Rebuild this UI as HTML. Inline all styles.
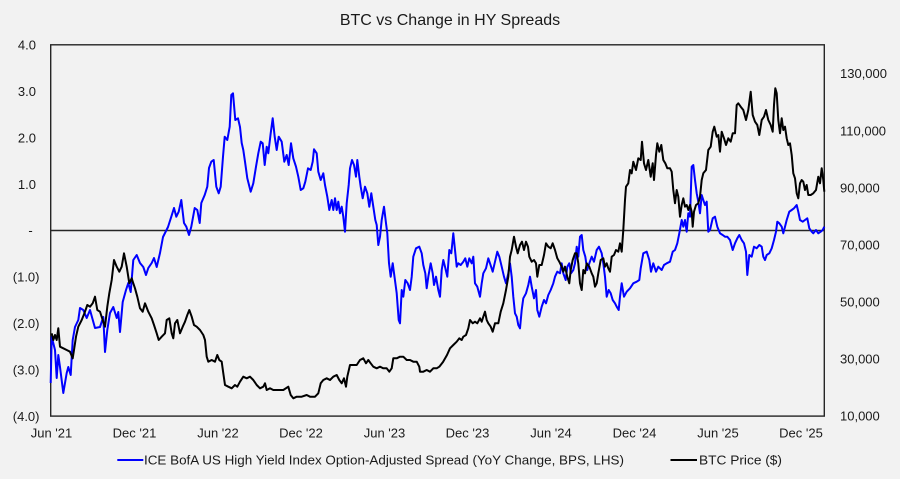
<!DOCTYPE html>
<html>
<head>
<meta charset="utf-8">
<style>
html,body{margin:0;padding:0;background:#f2f2f2;}
svg{display:block;}
text{font-family:"Liberation Sans",Arial,sans-serif;fill:#1a1a1a;}
</style>
</head>
<body>
<svg width="900" height="479" viewBox="0 0 900 479" xmlns="http://www.w3.org/2000/svg">
<rect x="0" y="0" width="900" height="479" fill="#f2f2f2"/>
<text x="450" y="25" font-size="16" text-anchor="middle">BTC vs Change in HY Spreads</text>

<!-- left axis labels -->
<g font-size="13">
<text x="36" y="49.6" text-anchor="end">4.0</text>
<text x="36" y="96" text-anchor="end">3.0</text>
<text x="36" y="142.4" text-anchor="end">2.0</text>
<text x="36" y="188.8" text-anchor="end">1.0</text>
<text x="30.5" y="235.2" text-anchor="middle">-</text>
<text x="39.5" y="281.6" text-anchor="end">(1.0)</text>
<text x="39.5" y="328" text-anchor="end">(2.0)</text>
<text x="39.5" y="374.4" text-anchor="end">(3.0)</text>
<text x="39.5" y="420.8" text-anchor="end">(4.0)</text>
</g>
<!-- right axis labels -->
<g font-size="13">
<text x="840" y="78.2">130,000</text>
<text x="840" y="135.3">110,000</text>
<text x="840" y="192.4">90,000</text>
<text x="840" y="249.5">70,000</text>
<text x="840" y="306.5">50,000</text>
<text x="840" y="363.6">30,000</text>
<text x="840" y="420.7">10,000</text>
</g>
<!-- x labels -->
<g font-size="13" text-anchor="middle">
<text x="51.5" y="437.4">Jun '21</text>
<text x="134.5" y="437.4">Dec '21</text>
<text x="218" y="437.4">Jun '22</text>
<text x="301" y="437.4">Dec '22</text>
<text x="384.5" y="437.4">Jun '23</text>
<text x="467.5" y="437.4">Dec '23</text>
<text x="551" y="437.4">Jun '24</text>
<text x="634.5" y="437.4">Dec '24</text>
<text x="718" y="437.4">Jun '25</text>
<text x="801" y="437.4">Dec '25</text>
</g>

<!-- plot frame -->
<rect x="50.7" y="44.8" width="773.6" height="371.3" fill="none" stroke="#262626" stroke-width="1.4"/>
<line x1="50.7" y1="230.5" x2="824.3" y2="230.5" stroke="#262626" stroke-width="1.4"/>

<!-- blue series -->
<polyline fill="none" stroke="#0000ff" stroke-width="2" stroke-linejoin="round" points="50.7,383 51.7,336.7 55,350 56.7,378 58.3,355 60,367 63.3,393 66.7,373 68.3,367 70.7,375 72.7,340 75,327 78.3,320 80,308 83.3,310 86.7,318 90,310 95,328 100,327 103.3,317 105,352 107.3,330 110,313 113.3,307 116.7,318 118.3,312 120,332 122.7,302 126,290 128.3,283 130.7,292 133.3,260 136.7,255 140,263 143.3,267 146,275 148.3,268 151.7,263 154,258 156.7,267 160,253 163,237 168,227 171.3,216.7 174,208 176.3,216.7 178.7,211.7 181.3,200 184,223 186.3,226.7 189,235 191.3,226.7 194.7,208 197.3,210 199.7,223 201.3,203 204.7,195 207.3,186.7 209,168 211.3,161.7 213.7,160 216.3,186.7 218.7,193.3 220.7,186.7 223,156.7 224.7,136.7 227.3,140 229.7,126.7 231.3,95 233,93.3 235.3,120 238,118.3 240,127 241.7,143 243.3,150 245,161.7 247.3,178.3 250.7,191.7 253.3,183.3 256,166.7 258.3,153.3 260.7,141.7 262.7,143.3 264.7,165 266.7,146.7 268.3,153.3 270.7,133.3 272.7,118.3 274.7,136.7 276.7,150 278.7,136.7 281.7,141.7 284.3,161.7 286.7,155 288.7,165 291,143.3 293.3,158.3 296,166.7 298.3,176.7 300.7,190 303.3,188.3 305.3,181.7 308,168.3 310.7,170 312.7,161.7 314,149.3 316.7,153.3 318.3,171.7 320.7,180 323.3,173.3 325,185 327.3,196.7 329.3,210 331.7,200 333.3,210 335,198.3 336.7,210 338.3,201.7 340,213.3 341.7,206.7 343.3,216.7 345,231.7 346.7,203.3 348.7,185 350,168.3 352,160 354,165 356,176.7 357.3,160 359.3,176.7 360.7,186.7 362.7,198.3 365,186.7 367.3,193.3 369.3,206.7 371.3,193.3 373.3,206.7 375.3,220 376.7,225 378.3,245 380,236.7 381.7,220 384,206.7 386,223.3 387.3,233.3 389,263.3 390.7,276.7 392.7,263.3 394.7,278.3 396.7,293.3 398.7,320 400,323.3 401.7,290 403.3,296.7 405.3,280 407.7,283.3 410,290 411.7,276.7 413.3,256.7 416,248.3 419.3,246.7 421.7,253.3 423.3,265 425.3,273.3 426.7,288.3 428.3,276.7 430.7,263.3 432.7,273.3 434,285 436,276.7 438.3,290 440,296.7 441.7,270 443.3,260 445,266.7 447.3,276.7 449.3,250 451.3,253.3 453.3,233.3 455,250 456.7,266.7 458.3,263.3 460.7,265 463.3,261.7 465.3,258.3 467.3,266.7 469.3,258.3 471.7,263.3 473.3,256.7 475,283.3 477.3,286.7 480,296.7 481.7,283.3 483.3,273.3 486,268.3 488.3,258.3 490,263.3 492.7,271.7 495,261.7 497.3,251.7 499.3,256.7 501.7,266.7 504,276.7 506,283.3 508.3,273.3 510,263.3 511.7,276.7 513.3,296.7 515,313.3 516.7,316.7 518.3,325 520,328.3 521.7,310 523.3,298.3 526,293.3 528.3,285 530,276.7 531.7,286.7 534,298.3 536,290 537.3,310 539.3,316.7 541.7,306.7 544,300 546,303.3 548.3,295 550.7,290 553.3,283.3 555,276.7 557.3,271.7 560,273.3 561.7,263.3 563.3,273.3 565.7,280 567.3,266.7 569.3,263.3 571,273.3 573.3,270 575,263.3 576.7,246.7 578.3,256.7 580,236.7 581.7,235 583.3,250 585.3,256.7 587.3,270 589.3,263.3 591.7,256.7 594,261.7 596.7,250 599,246.7 601.7,253.3 603.3,263.3 605,276.7 606.7,296.7 608.7,290 610.7,293.3 612.7,300 615,303.3 616.7,306.7 618.7,310 620,296.7 621.7,283.3 624,296.7 626.7,291.7 630,288.3 633.3,283.3 636.7,281.7 639.3,280 640.7,268.3 643.3,253.3 646.7,251.7 649.3,260 651,271.7 653.3,263.3 656,271.7 658.3,266.7 661.7,270 664,265 666.7,263.3 670,261.7 672.7,251.7 675,250 677.3,243.3 679.3,233.3 681.7,220 683.3,226.7 685,220 686.7,231.7 688.3,213.3 690,216.7 691.7,166.7 693.3,165 695,180 696.7,193.3 698.3,201.7 700,213.3 701.7,195 703.3,200 705,205 706.7,201.7 708.3,231.7 710,230 712.7,218.3 715,216.7 717.3,226.7 720,233.3 722.7,235 725,236.7 727.3,236.7 730,240 732.7,250 735,243.3 737.3,238.3 739.3,235 741.7,240 744,243.3 746,251.7 747.3,275 749.3,255 751.7,256.7 754,246.7 756.7,248.3 759.3,245 761.7,246.7 763.3,256.7 765,260 766.7,255 769.3,253.3 771.7,248.3 774,240 776,231.7 777.3,221.7 779.3,223.3 781.7,226.7 783.3,233.3 785,226.7 786.7,220 789.3,211.7 791.7,210 794,208.3 796.7,205 798.3,211.7 800,220 802.7,221.7 805,220 807.3,218.3 809.3,228.3 811.7,231.7 813.3,233.3 816,230 818.3,233.3 820.7,231.7 822.7,230 824.3,226.7"/>

<!-- black series -->
<polyline fill="none" stroke="#000000" stroke-width="2" stroke-linejoin="round" points="51.7,333.3 53.3,340 55,335 56.7,340 58.3,328.3 60,346.7 63.3,348.3 66.7,350 70,351.7 72.7,358.3 74,350 76,336.7 78.3,326.7 81.7,320 85,311.7 87.3,305 90,306.7 92.7,303.3 95,296.7 97.3,310 100,311.7 102.7,320 105,326.7 107.3,306.7 109.3,293.3 111.7,280 114,260 116.7,266.7 119.3,271.7 121.7,266.7 124,253.3 126.7,266.7 129.3,283.3 131.7,278.3 133.3,283.3 135,288.3 137.3,296.7 140,308.3 142.7,311.7 145,303.3 148.3,311.7 151.7,318.3 154,325 156.7,333.3 158.7,340 161.7,336.7 165,333.3 166.7,320 169.3,318.3 171.7,333.3 173.3,338.3 175,323.3 177.3,320 180,333.3 182.7,326.7 185,321.7 187.3,315 189.3,310 191.7,316.7 194,325 196.7,326.7 200,330 203.3,335 205,340 206.7,356.7 208.3,361.7 211.7,360 215,361.7 217.3,355 219.3,360 221.7,361.7 223.3,373.3 225,385 228.3,386.7 231.7,388.3 235,385 237.3,386.7 240,381.7 243.3,376.7 246.7,378.3 250,376.7 253.3,380 256.7,385 260,388.3 263.3,386.7 265,383.3 266.7,390 270,388.3 273.3,390 278.3,390 283.3,390 288.3,386.7 290.7,395 293.3,398.3 296.7,396.7 301.7,396.7 306.7,395 310,396.7 315,396.7 318.3,393.3 320.7,383.3 323.3,380 326.7,378.3 330,380 333.3,376.7 336.7,375 339.3,380 341.7,383.3 344,378.3 346,386.7 347.3,376.7 350,365 353.3,365 356.7,365 360,360 363.3,358.3 366,363.3 368.3,360 370.7,363.3 373.3,366.7 376.7,368.3 380,366.7 383.3,368.3 386.7,368.3 389.3,371.7 391.7,368.3 393.3,358.3 396.7,358.3 400,356.7 403.3,356.7 406.7,360 410,360 413.3,361.7 416.7,361.7 419.3,366.7 420,371.7 423.3,371.7 426.7,370 430,371.7 433.3,368.3 436.7,368.3 439.3,366.7 443,362 447,355 450,348.3 453.3,345 456.7,341.7 459.3,338.3 461.7,340 463.3,336.7 466,335 468.3,328.3 470,320 472.7,323.3 475,321.7 477.3,323.3 480,318.3 481.7,321.7 483.3,316.7 485,311.7 486.7,320 488.3,323.3 490.7,326.7 492.7,331.7 495,323.3 498.3,323.3 500.7,311.7 503.3,303.3 506,290 508.3,276.7 510,256.7 511.7,250 514,236.7 516,246.7 517.7,253.3 520,245 522,241.7 524,250 526,241.7 528,246.7 529.3,256.7 531.7,261.7 534,260 536,263.3 537.3,276.7 539.3,265 541.7,265 544,255 546,243.3 548.3,246.7 550.7,248.3 552.7,243.3 555,250 557.3,258.3 559.3,261.7 561.7,266.7 563.3,271.7 565,266.7 567.3,276.7 569.3,283.3 570.7,270 572.7,260 575,253.3 576.7,253.3 578.3,263.3 580,283.3 581.7,290 583.3,270 585,273.3 586.7,263.3 589.3,266.7 591.7,273.3 593.3,276.7 595,286.7 596.7,283.3 598.3,273.3 600.7,260 603.3,258.3 605,266.7 606.7,263.3 608.3,268.3 610,271.7 611.7,256.7 614,255 616,250 618.3,251.7 620,243.3 621.7,251.7 623.3,230 625,200 626,186.7 628.3,183.3 630,170 631.7,173.3 633.3,161.7 636,170 638.3,158.3 640.7,160 642,141.7 644,163.3 646,170 648.3,160 650.7,176.7 652.7,163.3 654,180 656,155 657.3,143.3 659.3,151.7 661.3,145 663.3,160 665.3,163.3 667.3,168.3 670,168.3 671.7,171.7 673.3,190 675,203.3 676.7,190 678.3,196.7 680,216.7 681.7,205 683.3,198.3 685,206.7 686.7,205 688.3,210 690,205 691.7,211.7 692.7,226.7 694,211.7 696,205 698.3,203.3 700,196.7 701.7,180 703.3,173.3 706,170 708.3,150 710.7,146.7 712.7,131.7 714.3,126.7 716.7,136.7 718.3,135 720,151.7 721.7,131.7 724,138.3 726,145 728.3,138.3 730.7,141.7 732.7,133.3 735,133.3 736.7,105 738.3,103.3 740.7,106.7 743.3,110 746,120 748.3,110 750.7,91.7 752.7,115 755,121.7 757.3,125 759.3,135 761.7,120 764,116.7 766,110 768.3,120 770.7,125 772.7,131.7 774,105 775.3,88.3 776.7,93.3 778.3,120 780,133.3 781.7,118.3 783.3,130 785,126.7 786.7,138.3 788.3,145 790,143.3 791.7,155 793.3,173.3 795,178.3 796.7,193.3 798.3,198.3 800,183.3 801.7,180 803.3,181.7 805,190 806.7,185 808.3,195 810.7,195 813.3,193.3 816,190 818.3,176.7 820,183.3 821.7,168.3 823.3,180 824.3,191.7"/>

<!-- legend -->
<line x1="117.3" y1="460" x2="143.3" y2="460" stroke="#0000ff" stroke-width="2"/>
<text x="144" y="464.6" font-size="13" textLength="480" lengthAdjust="spacingAndGlyphs">ICE BofA US High Yield Index Option-Adjusted Spread (YoY Change, BPS, LHS)</text>
<line x1="670.5" y1="460" x2="697" y2="460" stroke="#000000" stroke-width="2"/>
<text x="699" y="464.6" font-size="13" textLength="83" lengthAdjust="spacingAndGlyphs">BTC Price ($)</text>
</svg>
</body>
</html>
